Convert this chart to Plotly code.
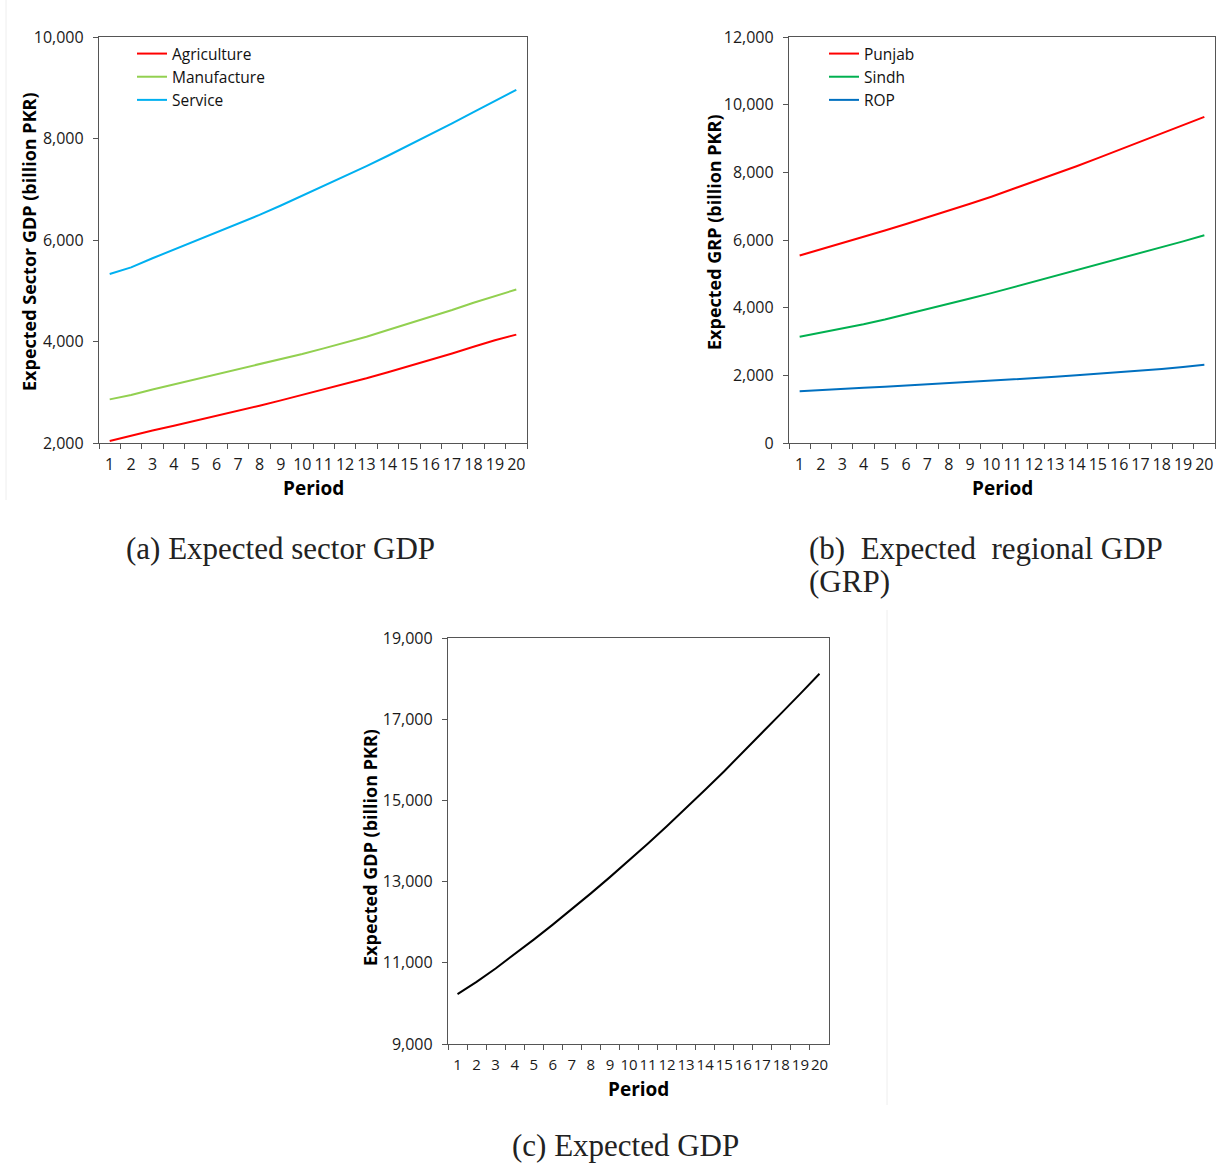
import plotly.graph_objects as go

# ---------------- data ----------------
periods = [str(i) for i in range(1, 21)]

agriculture = [2040, 2150, 2245, 2340, 2435, 2530, 2630, 2735, 2840, 2945,
               3050, 3160, 3275, 3395, 3515, 3640, 3765, 3895, 4025, 4135]
manufacture = [2860, 2945, 3055, 3155, 3260, 3355, 3450, 3545, 3650, 3755,
               3865, 3975, 4095, 4225, 4355, 4490, 4620, 4765, 4895, 5025]
service = [5330, 5460, 5640, 5810, 5975, 6145, 6320, 6495, 6680, 6870,
           7060, 7255, 7455, 7660, 7870, 8085, 8300, 8520, 8740, 8960]

punjab = [5540, 5720, 5900, 6090, 6280, 6475, 6670, 6870, 7070, 7280,
          7500, 7720, 7950, 8180, 8420, 8660, 8900, 9140, 9390, 9640]
sindh = [3140, 3260, 3390, 3510, 3650, 3800, 3960, 4110, 4270, 4430,
         4600, 4770, 4940, 5110, 5280, 5450, 5600, 5780, 5960, 6140]
rop = [1530, 1570, 1600, 1630, 1660, 1695, 1725, 1760, 1795, 1830,
       1870, 1910, 1955, 2000, 2045, 2090, 2140, 2190, 2250, 2310]

total_gdp = [10230, 10530, 10860, 11210, 11570, 11940, 12320, 12710, 13110, 13520,
             13940, 14370, 14810, 15260, 15720, 16190, 16670, 17150, 17630, 18120]

# ---------------- layout helpers ----------------
W, H = 1223, 1165


def px_x(v):
    return v / W


def px_y(v):
    return 1 - v / H


SANS = "Open Sans, Noto Sans, sans-serif"
TICK_FONT = dict(family=SANS, size=16, color="#1a1a1a")
TICK_FONT_C = dict(family=SANS, size=15, color="#1a1a1a")
TITLE_FONT = dict(family=SANS, size=18, color="#000000")
PERIOD_FONT = dict(family=SANS, size=19, color="#000000")
AXIS_COLOR = "#555555"

fig = go.Figure()

series_a = [("Agriculture", agriculture, "#ff0000"),
            ("Manufacture", manufacture, "#92d050"),
            ("Service", service, "#00b0f0")]
series_b = [("Punjab", punjab, "#ff0000"),
            ("Sindh", sindh, "#00b050"),
            ("ROP", rop, "#0070c0")]

for i, (name, vals, col) in enumerate(series_a):
    fig.add_trace(go.Scatter(x=periods, y=vals, name=name, mode="lines",
                             line=dict(color=col, width=2),
                             xaxis="x", yaxis="y", legend="legend",
                             legendgroup="a%d" % i))
for i, (name, vals, col) in enumerate(series_b):
    fig.add_trace(go.Scatter(x=periods, y=vals, name=name, mode="lines",
                             line=dict(color=col, width=2),
                             xaxis="x2", yaxis="y2", legend="legend2",
                             legendgroup="b%d" % i))
fig.add_trace(go.Scatter(x=periods, y=total_gdp, name="GDP", mode="lines",
                         line=dict(color="#000000", width=2),
                         xaxis="x3", yaxis="y3", showlegend=False))


def xaxis_style(domain, anchor, font=TICK_FONT):
    return dict(domain=domain, anchor=anchor, type="category",
                range=[-0.5, len(periods) - 0.5],
                tickson="boundaries", ticks="outside", ticklen=5,
                tickcolor=AXIS_COLOR, tickwidth=1.3, tickangle=0,
                showline=True, linecolor=AXIS_COLOR, linewidth=1.3, mirror=True,
                showgrid=False, zeroline=False, tickfont=font,
                ticklabelstandoff=7, automargin=False, fixedrange=True)


def yaxis_style(domain, anchor, rng):
    return dict(domain=domain, anchor=anchor, range=rng,
                tickmode="linear", tick0=rng[0], dtick=2000, tickformat=",",
                ticks="outside", ticklen=5, tickcolor=AXIS_COLOR, tickwidth=1.3,
                showline=True, linecolor=AXIS_COLOR, linewidth=1.3, mirror=True,
                showgrid=False, zeroline=False, tickfont=TICK_FONT,
                ticklabelstandoff=6, automargin=False, fixedrange=True)


dom_a_x = [px_x(99), px_x(527)]
dom_b_x = [px_x(789), px_x(1215)]
dom_c_x = [px_x(448), px_x(829)]
dom_top_y = [px_y(443), px_y(37)]
dom_c_y = [px_y(1044), px_y(638)]

legend_common = dict(xanchor="left", yanchor="top", bgcolor="rgba(0,0,0,0)",
                     font=dict(family=SANS, size=15.5, color="#111111"),
                     traceorder="grouped", tracegroupgap=0, borderwidth=0)

fig.update_layout(
    width=W, height=H,
    margin=dict(l=0, r=0, t=0, b=0, autoexpand=False),
    paper_bgcolor="white", plot_bgcolor="white",
    xaxis=xaxis_style(dom_a_x, "y"),
    yaxis=yaxis_style(dom_top_y, "x", [2000, 10000]),
    xaxis2=xaxis_style(dom_b_x, "y2"),
    yaxis2=yaxis_style(dom_top_y, "x2", [0, 12000]),
    xaxis3=xaxis_style(dom_c_x, "y3", TICK_FONT_C),
    yaxis3=yaxis_style(dom_c_y, "x3", [9000, 19000]),
    legend=dict(x=px_x(132), y=px_y(37), **legend_common),
    legend2=dict(x=px_x(824), y=px_y(37), **legend_common),
    showlegend=True,
)

annotations = []
# axis titles
annotations.append(dict(text="<b>Expected Sector GDP (billion PKR)</b>", x=px_x(29), y=px_y(242),
                        xref="paper", yref="paper", showarrow=False, textangle=-90,
                        font=TITLE_FONT, xanchor="center", yanchor="middle"))
annotations.append(dict(text="<b>Expected GRP (billion PKR)</b>", x=px_x(714), y=px_y(232),
                        xref="paper", yref="paper", showarrow=False, textangle=-90,
                        font=TITLE_FONT, xanchor="center", yanchor="middle"))
annotations.append(dict(text="<b>Expected GDP (billion PKR)</b>", x=px_x(370), y=px_y(848),
                        xref="paper", yref="paper", showarrow=False, textangle=-90,
                        font=TITLE_FONT, xanchor="center", yanchor="middle"))
for cx, cy in [(313, 488), (1002, 488), (638, 1089)]:
    annotations.append(dict(text="<b>Period</b>", x=px_x(cx), y=px_y(cy), xref="paper", yref="paper",
                            showarrow=False, font=PERIOD_FONT, xanchor="center", yanchor="middle"))

# sub-figure captions
CAP_FONT = dict(family="Liberation Serif, DejaVu Serif, serif", size=31, color="#222222")
annotations.append(dict(text="(a) Expected sector GDP", x=px_x(124), y=px_y(549), xref="paper",
                        yref="paper", showarrow=False, font=CAP_FONT, xanchor="left", yanchor="middle"))
annotations.append(dict(text="(b)\u00a0\u00a0Expected\u00a0\u00a0regional GDP", x=px_x(807),
                        y=px_y(549), xref="paper", yref="paper", showarrow=False, font=CAP_FONT,
                        xanchor="left", yanchor="middle"))
annotations.append(dict(text="(GRP)", x=px_x(807),
                        y=px_y(581), xref="paper", yref="paper", showarrow=False, font=CAP_FONT,
                        xanchor="left", yanchor="middle"))
annotations.append(dict(text="(c) Expected GDP", x=px_x(511), y=px_y(1164), xref="paper",
                        yref="paper", showarrow=False, font=CAP_FONT, xanchor="left", yanchor="bottom",
                        borderpad=0))

fig.update_layout(annotations=annotations)

# faint borders of the original sub-figure images
fig.add_shape(type="line", xref="paper", yref="paper", x0=px_x(6), x1=px_x(6), y0=px_y(0), y1=px_y(500),
              line=dict(color="#eeeeee", width=1))
fig.add_shape(type="line", xref="paper", yref="paper", x0=px_x(887), x1=px_x(887), y0=px_y(610),
              y1=px_y(1105), line=dict(color="#eeeeee", width=1))

fig.write_html("out.html")
